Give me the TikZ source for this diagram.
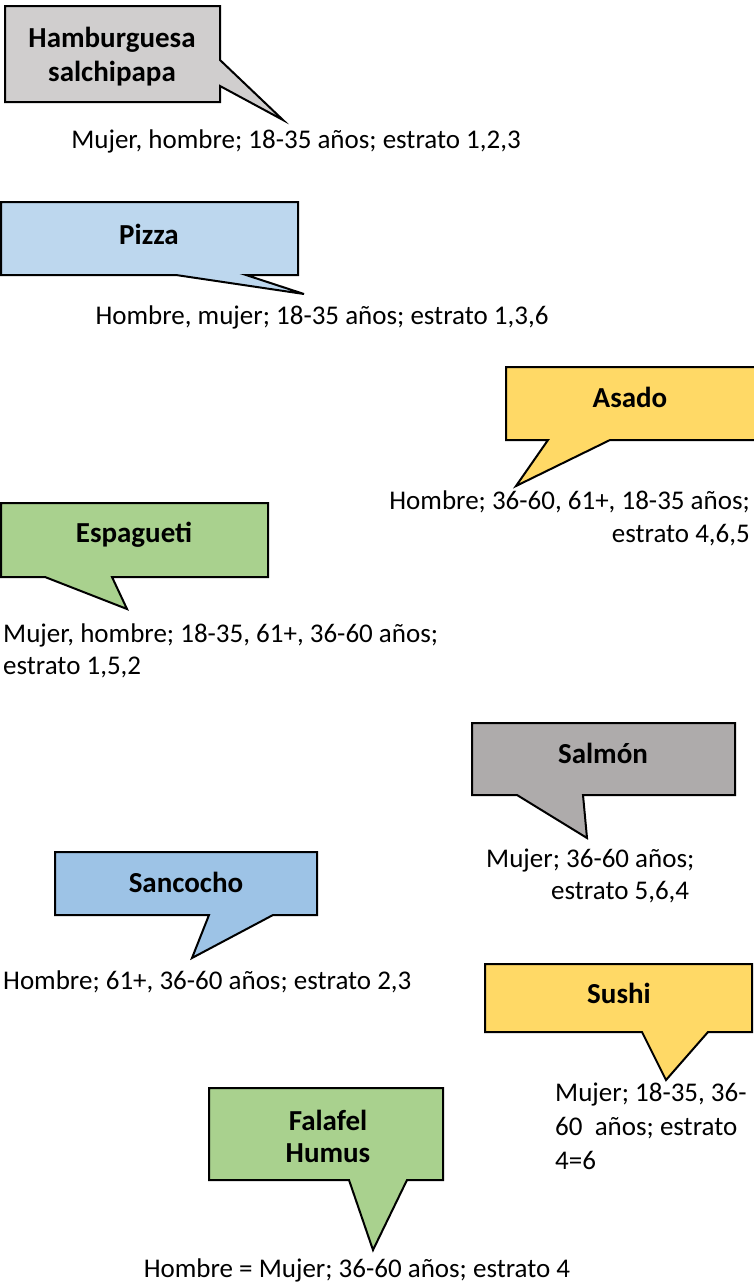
\documentclass[tikz,border=0pt]{standalone}
\usepackage{fontspec}
\setmainfont{Carlito}
\definecolor{grayA}{HTML}{D0CECE}
\definecolor{grayB}{HTML}{AEABAB}
\definecolor{blueA}{HTML}{BDD7EE}
\definecolor{blueB}{HTML}{9DC3E6}
\definecolor{yel}{HTML}{FFD966}
\definecolor{grn}{HTML}{A9D18E}
\begin{document}
\begin{tikzpicture}[x=1pt,y=-1pt,
  bubble/.style={draw=black,line width=2pt,line join=miter},
  lbl/.style={font=\fontsize{29}{34}\selectfont\bfseries,inner sep=0pt,align=center},
  txt/.style={font=\fontsize{27}{33}\selectfont,inner sep=0pt}]
\useasboundingbox (0,0) rectangle (753,1285);
% Hamburguesa
\draw[bubble,fill=grayA] (5,6) -- (220,6) -- (220,60) -- (283,120) -- (220,86) -- (220,102) -- (5,102) -- cycle;
\node[lbl,anchor=base] (hamb) at (112,47) {Hamburguesa};
\node[lbl,anchor=base] (hamb2) at (112,81) {salchipapa};
\node[txt,anchor=base] (thamb) at (296,148) {Mujer, hombre; 18-35 años; estrato 1,2,3};
% Pizza
\draw[bubble,fill=blueA] (1,202) -- (298,202) -- (298,275) -- (246,275) -- (304,294) -- (176,275) -- (1,275) -- cycle;
\node[lbl,anchor=base] (pizza) at (149,244) {Pizza};
\node[txt,anchor=base] (tpizza) at (322,324) {Hombre, mujer; 18-35 años; estrato 1,3,6};
% Asado
\draw[bubble,fill=yel] (506,367) -- (760,367) -- (760,440) -- (610,440) -- (516,486) -- (548,440) -- (506,440) -- cycle;
\node[lbl,anchor=base] (asado) at (630,407) {Asado};
\node[txt,anchor=base east] (tasado1) at (750,509) {Hombre; 36-60, 61+, 18-35 años;};
\node[txt,anchor=base east] (tasado2) at (750,542) {estrato 4,6,5};
% Espagueti
\draw[bubble,fill=grn] (1,503) -- (268,503) -- (268,577) -- (112,577) -- (127,609) -- (45,577) -- (1,577) -- cycle;
\node[lbl,anchor=base] (esp) at (134,542) {Espagueti};
\node[txt,anchor=base west] (tesp1) at (3,642) {Mujer, hombre; 18-35, 61+, 36-60 años;};
\node[txt,anchor=base west] (tesp2) at (3,674) {estrato 1,5,2};
% Salmon
\draw[bubble,fill=grayB] (472,723) -- (735,723) -- (735,795) -- (583,795) -- (587,838) -- (517,795) -- (472,795) -- cycle;
\node[lbl,anchor=base] (salmon) at (603,763) {Salmón};
\node[txt,anchor=base west] (tsal1) at (486,867) {Mujer; 36-60 años;};
\node[txt,anchor=base west] (tsal2) at (551,899) {estrato 5,6,4};
% Sancocho
\draw[bubble,fill=blueB] (55,852) -- (317,852) -- (317,915) -- (273,915) -- (192,958) -- (209,915) -- (55,915) -- cycle;
\node[lbl,anchor=base] (sanc) at (186,892) {Sancocho};
\node[txt,anchor=base west] (tsanc) at (3,989) {Hombre; 61+, 36-60 años; estrato 2,3};
% Sushi
\draw[bubble,fill=yel] (485,964) -- (752,964) -- (752,1032) -- (708,1032) -- (666,1080) -- (642,1032) -- (485,1032) -- cycle;
\node[lbl,anchor=base] (sushi) at (619,1003) {Sushi};
\node[txt,anchor=base west] (tsushi1) at (555,1101) {Mujer; 18-35, 36-};
\node[txt,anchor=base west] (tsushi2) at (555,1135) {60\ \ años; estrato};
\node[txt,anchor=base west] (tsushi3) at (555,1169) {4=6};
% Falafel
\draw[bubble,fill=grn] (209,1088) -- (443,1088) -- (443,1180) -- (407,1180) -- (373,1250) -- (349,1180) -- (209,1180) -- cycle;
\node[lbl,anchor=base] (fal1) at (328,1130) {Falafel};
\node[lbl,anchor=base] (fal2) at (328,1162) {Humus};
\node[txt,anchor=base] (tfal) at (357,1277) {Hombre = Mujer; 36-60 años; estrato 4};
\end{tikzpicture}
\end{document}
